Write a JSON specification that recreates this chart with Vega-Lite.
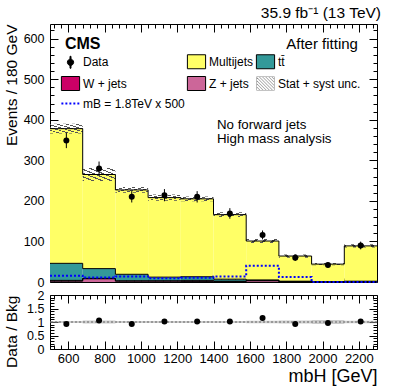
{
  "$schema": "https://vega.github.io/schema/vega-lite/v6.json",
  "padding": {"left": 3, "top": 5, "right": 5, "bottom": 2},
  "config": {
    "font": "Liberation Sans",
    "view": {"stroke": "black", "strokeWidth": 1},
    "axis": {"domain": false, "grid": false, "tickColor": "black", "labelColor": "black", "titleColor": "black", "labelFontSize": 13, "titleFontWeight": "normal", "tickWidth": 1},
    "axisX": {"titleFontSize": 18},
    "axisY": {"labelFontSize": 12.5}
  },
  "datasets": {
    "bins": [
      {"lo": 500, "hi": 680, "center": 590, "wjets": 2, "zjets": 2, "ttbar": 42, "multijets": 332, "signal": 15.5, "data": 349, "data_lo": 330, "data_hi": 368, "unc_lo": 366, "unc_hi": 390, "ratio": 0.93, "ratio_lo": 0.96, "ratio_hi": 1.04},
      {"lo": 680, "hi": 860, "center": 770, "wjets": 1, "zjets": 8, "ttbar": 24, "multijets": 232, "signal": 11, "data": 280, "data_lo": 263, "data_hi": 297, "unc_lo": 249, "unc_hi": 281, "ratio": 1.06, "ratio_lo": 0.94, "ratio_hi": 1.06},
      {"lo": 860, "hi": 1040, "center": 950, "wjets": 1, "zjets": 2, "ttbar": 16, "multijets": 208, "signal": 13.5, "data": 210, "data_lo": 196, "data_hi": 224, "unc_lo": 220, "unc_hi": 234, "ratio": 0.93, "ratio_lo": 0.96, "ratio_hi": 1.04},
      {"lo": 1040, "hi": 1220, "center": 1130, "wjets": 1, "zjets": 2, "ttbar": 9, "multijets": 196, "signal": 9, "data": 214, "data_lo": 199, "data_hi": 229, "unc_lo": 200, "unc_hi": 216, "ratio": 1.02, "ratio_lo": 0.96, "ratio_hi": 1.04},
      {"lo": 1220, "hi": 1400, "center": 1310, "wjets": 3, "zjets": 1, "ttbar": 9, "multijets": 192, "signal": 10.5, "data": 210, "data_lo": 196, "data_hi": 224, "unc_lo": 199, "unc_hi": 211, "ratio": 1.02, "ratio_lo": 0.96, "ratio_hi": 1.04},
      {"lo": 1400, "hi": 1580, "center": 1490, "wjets": 1, "zjets": 1, "ttbar": 5, "multijets": 159, "signal": 13.5, "data": 169, "data_lo": 156, "data_hi": 182, "unc_lo": 160, "unc_hi": 172, "ratio": 1.02, "ratio_lo": 0.96, "ratio_hi": 1.04},
      {"lo": 1580, "hi": 1760, "center": 1670, "wjets": 1, "zjets": 3, "ttbar": 1, "multijets": 96, "signal": 40, "data": 116, "data_lo": 105, "data_hi": 127, "unc_lo": 96, "unc_hi": 106, "ratio": 1.15, "ratio_lo": 0.95, "ratio_hi": 1.05},
      {"lo": 1760, "hi": 1940, "center": 1850, "wjets": 0.5, "zjets": 0.5, "ttbar": 1, "multijets": 62, "signal": 12.5, "data": 60, "data_lo": 52, "data_hi": 68, "unc_lo": 60, "unc_hi": 68, "ratio": 0.93, "ratio_lo": 0.94, "ratio_hi": 1.06},
      {"lo": 1940, "hi": 2120, "center": 2030, "wjets": 0.3, "zjets": 0.3, "ttbar": 0.5, "multijets": 43, "signal": 0, "data": 42, "data_lo": 35.5, "data_hi": 48.5, "unc_lo": 41, "unc_hi": 47, "ratio": 0.96, "ratio_lo": 0.93, "ratio_hi": 1.07},
      {"lo": 2120, "hi": 2300, "center": 2210, "wjets": 0.5, "zjets": 0.5, "ttbar": 1, "multijets": 87, "signal": 0, "data": 90, "data_lo": 80.5, "data_hi": 99.5, "unc_lo": 85, "unc_hi": 93, "ratio": 1.02, "ratio_lo": 0.95, "ratio_hi": 1.05}
    ]
  },
  "spacing": -1,
  "vconcat": [
    {
      "width": 327,
      "height": 258,
      "title": {"text": "35.9 fb⁻¹  (13 TeV)", "anchor": "end", "fontSize": 15.5, "fontWeight": "normal", "offset": 2, "color": "black"},
      "resolve": {"axis": {"x": "independent", "y": "independent"}},
      "layer": [
        {
          "data": {"name": "bins"},
          "transform": [
            {"fold": ["zjets", "wjets", "ttbar", "multijets"], "as": ["process", "events"]},
            {"stack": "events", "groupby": ["lo"], "sort": [{"field": "process", "order": "descending"}], "as": ["y0", "y1"]}
          ],
          "mark": {"type": "rect"},
          "encoding": {
            "x": {"field": "lo", "type": "quantitative", "scale": {"domain": [500, 2300], "nice": false, "zero": false},
              "axis": {"orient": "bottom", "values": [520,560,600,640,680,720,760,800,840,880,920,960,1000,1040,1080,1120,1160,1200,1240,1280,1320,1360,1400,1440,1480,1520,1560,1600,1640,1680,1720,1760,1800,1840,1880,1920,1960,2000,2040,2080,2120,2160,2200,2240,2280], "labels": false, "title": null,
                "tickSize": {"condition": {"test": "datum.value % 200 === 0", "value": -8}, "value": -4}}},
            "x2": {"field": "hi"},
            "y": {"field": "y0", "type": "quantitative", "scale": {"domain": [0, 636], "nice": false},
              "axis": {"orient": "left", "values": [0,20,40,60,80,100,120,140,160,180,200,220,240,260,280,300,320,340,360,380,400,420,440,460,480,500,520,540,560,580,600,620],
                "labelExpr": "datum.value % 100 === 0 ? datum.label : ''", "labelPadding": 14,
                "tickSize": {"condition": {"test": "datum.value % 100 === 0", "value": -8}, "value": -4},
                "title": "Events / 180 GeV", "titleAnchor": "end", "titleAlign": "right", "titleAngle": 270, "titleY": 0, "titleFontSize": 15.5, "titlePadding": 4}},
            "y2": {"field": "y1"},
            "color": {"field": "process", "type": "nominal",
              "scale": {"domain": ["data", "multijets", "ttbar", "wjets", "zjets", "unc", "signal"], "range": ["#000000", "#ffff66", "#339999", "#cc0066", "#cc6699", "#888888", "#0000ff"]},
              "legend": {"orient": "none", "legendX": 13, "legendY": 30, "columns": 3, "direction": "horizontal", "title": null,
                "columnPadding": 0, "rowPadding": 3, "symbolSize": 196, "symbolOpacity": 1, "symbolStrokeWidth": 1, "labelFontSize": 12, "labelOffset": 5, "labelLimit": 200, "labelColor": "black",
                "labelExpr": "datum.value === 'data' ? 'Data' : datum.value === 'multijets' ? 'Multijets' : datum.value === 'ttbar' ? 'tt̄' : datum.value === 'wjets' ? 'W + jets' : datum.value === 'zjets' ? 'Z + jets' : datum.value === 'unc' ? 'Stat + syst unc.' : 'mB = 1.8TeV x 500'"}}
          }
        },
        {
          "data": {"name": "bins"},
          "mark": {"type": "rect", "fill": {"gradient": "linear", "x1": 0, "y1": 1, "x2": 1, "y2": 0, "stops": [
            {"offset": 0, "color": "#555555"}, {"offset": 0.045, "color": "#555555"}, {"offset": 0.045, "color": "rgba(255,255,255,0)"}, {"offset": 0.1429, "color": "rgba(255,255,255,0)"},
            {"offset": 0.1429, "color": "#555555"}, {"offset": 0.1879, "color": "#555555"}, {"offset": 0.1879, "color": "rgba(255,255,255,0)"}, {"offset": 0.2857, "color": "rgba(255,255,255,0)"},
            {"offset": 0.2857, "color": "#555555"}, {"offset": 0.3307, "color": "#555555"}, {"offset": 0.3307, "color": "rgba(255,255,255,0)"}, {"offset": 0.4286, "color": "rgba(255,255,255,0)"},
            {"offset": 0.4286, "color": "#555555"}, {"offset": 0.4736, "color": "#555555"}, {"offset": 0.4736, "color": "rgba(255,255,255,0)"}, {"offset": 0.5714, "color": "rgba(255,255,255,0)"},
            {"offset": 0.5714, "color": "#555555"}, {"offset": 0.6164, "color": "#555555"}, {"offset": 0.6164, "color": "rgba(255,255,255,0)"}, {"offset": 0.7143, "color": "rgba(255,255,255,0)"},
            {"offset": 0.7143, "color": "#555555"}, {"offset": 0.7593, "color": "#555555"}, {"offset": 0.7593, "color": "rgba(255,255,255,0)"}, {"offset": 0.8571, "color": "rgba(255,255,255,0)"},
            {"offset": 0.8571, "color": "#555555"}, {"offset": 0.9021, "color": "#555555"}, {"offset": 0.9021, "color": "rgba(255,255,255,0)"}, {"offset": 1, "color": "rgba(255,255,255,0)"}
          ]}},
          "encoding": {
            "x": {"field": "lo", "type": "quantitative", "axis": null},
            "x2": {"field": "hi"},
            "y": {"field": "unc_lo", "type": "quantitative", "axis": null},
            "y2": {"field": "unc_hi"}
          }
        },
        {
          "data": {"name": "bins"},
          "transform": [
            {"fold": ["zjets", "wjets", "ttbar", "multijets"], "as": ["process", "events"]},
            {"stack": "events", "groupby": ["lo"], "sort": [{"field": "process", "order": "descending"}], "as": ["y0", "y1"]},
            {"fold": ["lo", "hi"], "as": ["edge", "xpos"]}
          ],
          "mark": {"type": "line", "color": "black", "strokeWidth": 1},
          "encoding": {
            "x": {"field": "xpos", "type": "quantitative", "axis": null},
            "y": {"field": "y1", "type": "quantitative", "axis": null},
            "detail": {"field": "process", "type": "nominal"},
            "order": [{"field": "xpos", "type": "quantitative"}, {"field": "edge", "type": "nominal"}]
          }
        },
        {
          "data": {"name": "bins"},
          "transform": [{"fold": ["lo", "hi"], "as": ["edge", "xpos"]}],
          "mark": {"type": "line", "color": "#0000ff", "strokeWidth": 2, "strokeDash": [2, 2]},
          "encoding": {
            "x": {"field": "xpos", "type": "quantitative", "axis": null},
            "y": {"field": "signal", "type": "quantitative", "axis": null},
            "order": [{"field": "xpos", "type": "quantitative"}, {"field": "edge", "type": "nominal"}]
          }
        },
        {
          "data": {"name": "bins"},
          "mark": {"type": "rule", "color": "black", "strokeWidth": 1},
          "encoding": {
            "x": {"field": "center", "type": "quantitative", "axis": null},
            "y": {"field": "data_lo", "type": "quantitative", "axis": null},
            "y2": {"field": "data_hi"}
          }
        },
        {
          "data": {"name": "bins"},
          "mark": {"type": "point", "filled": true, "color": "black", "size": 36, "opacity": 1},
          "encoding": {
            "x": {"field": "center", "type": "quantitative",
              "axis": {"orient": "top", "values": [520,560,600,640,680,720,760,800,840,880,920,960,1000,1040,1080,1120,1160,1200,1240,1280,1320,1360,1400,1440,1480,1520,1560,1600,1640,1680,1720,1760,1800,1840,1880,1920,1960,2000,2040,2080,2120,2160,2200,2240,2280], "labels": false, "title": null,
                "tickSize": {"condition": {"test": "datum.value % 200 === 0", "value": -8}, "value": -4}}},
            "y": {"field": "data", "type": "quantitative",
              "axis": {"orient": "right", "values": [0,20,40,60,80,100,120,140,160,180,200,220,240,260,280,300,320,340,360,380,400,420,440,460,480,500,520,540,560,580,600,620], "labels": false, "title": null,
                "tickSize": {"condition": {"test": "datum.value % 100 === 0", "value": -8}, "value": -4}}}
          }
        },
        {
          "data": {"name": "bins"},
          "transform": [{"fold": ["zjets", "wjets", "ttbar", "multijets"], "as": ["process", "events"]}],
          "mark": {"type": "point", "filled": true, "opacity": 0},
          "encoding": {
            "x": {"field": "lo", "type": "quantitative", "axis": null},
            "y": {"field": "events", "type": "quantitative", "axis": null},
            "color": {"field": "process", "type": "nominal",
              "legend": {"orient": "none", "legendX": 13, "legendY": 30, "columns": 3, "direction": "horizontal", "title": null,
                "columnPadding": 0, "rowPadding": 3, "symbolSize": 196, "symbolOpacity": 1, "symbolStrokeWidth": 1, "labelFontSize": 12, "labelOffset": 5, "labelLimit": 200, "labelColor": "black",
                "labelExpr": "datum.value === 'data' ? 'Data' : datum.value === 'multijets' ? 'Multijets' : datum.value === 'ttbar' ? 'tt̄' : datum.value === 'wjets' ? 'W + jets' : datum.value === 'zjets' ? 'Z + jets' : datum.value === 'unc' ? 'Stat + syst unc.' : 'mB = 1.8TeV x 500'"}},
            "shape": {"field": "process", "type": "nominal",
              "scale": {"domain": ["data", "multijets", "ttbar", "wjets", "zjets", "unc", "signal"],
                "range": [
                  "M-0.07,-0.85H0.07V0.85H-0.07Z M0.45,0A0.45,0.45,0,1,1,-0.45,0A0.45,0.45,0,1,1,0.45,0Z",
                  "M-1.3,-1H1.3V1H-1.3Z",
                  "M-1.3,-1H1.3V1H-1.3Z",
                  "M-1.3,-1H1.3V1H-1.3Z",
                  "M-1.3,-1H1.3V1H-1.3Z",
                  "M-1.3,-1H1.3V1H-1.3Z M-1.22,-0.92V0.92H1.22V-0.92Z M-1.3,0.5L-1.18,0.5L-0.68,1L-0.8,1Z M-1.3,0.05L-1.18,0.05L-0.23,1L-0.35,1Z M-1.3,-0.4L-1.18,-0.4L0.22,1L0.1,1Z M-1.3,-0.85L-1.18,-0.85L0.67,1L0.55,1Z M-1,-1L-0.88,-1L1.12,1L1,1Z M-0.55,-1L-0.43,-1L1.3,0.73L1.18,0.73Z M-0.1,-1L0.02,-1L1.3,0.28L1.18,0.28Z M0.35,-1L0.47,-1L1.3,-0.17L1.18,-0.17Z M0.8,-1L0.92,-1L1.3,-0.62L1.18,-0.62Z",
                  "M-1.3,-0.14h0.28v0.28h-0.28Z M-0.73,-0.14h0.28v0.28h-0.28Z M-0.16,-0.14h0.28v0.28h-0.28Z M0.41,-0.14h0.28v0.28h-0.28Z M0.98,-0.14h0.28v0.28h-0.28Z"
                ]},
              "legend": {"orient": "none", "legendX": 13, "legendY": 30, "columns": 3, "direction": "horizontal", "title": null,
                "columnPadding": 0, "rowPadding": 3, "symbolSize": 196, "symbolOpacity": 1, "symbolStrokeWidth": 1, "labelFontSize": 12, "labelOffset": 5, "labelLimit": 200, "labelColor": "black",
                "labelExpr": "datum.value === 'data' ? 'Data' : datum.value === 'multijets' ? 'Multijets' : datum.value === 'ttbar' ? 'tt̄' : datum.value === 'wjets' ? 'W + jets' : datum.value === 'zjets' ? 'Z + jets' : datum.value === 'unc' ? 'Stat + syst unc.' : 'mB = 1.8TeV x 500'"}},
            "stroke": {"field": "process", "type": "nominal",
              "scale": {"domain": ["data", "multijets", "ttbar", "wjets", "zjets", "unc", "signal"],
                "range": ["#000000", "#000000", "#000000", "#000000", "#000000", "transparent", "transparent"]},
              "legend": {"orient": "none", "legendX": 13, "legendY": 30, "columns": 3, "direction": "horizontal", "title": null,
                "columnPadding": 0, "rowPadding": 3, "symbolSize": 196, "symbolOpacity": 1, "symbolStrokeWidth": 1, "labelFontSize": 12, "labelOffset": 5, "labelLimit": 200, "labelColor": "black",
                "labelExpr": "datum.value === 'data' ? 'Data' : datum.value === 'multijets' ? 'Multijets' : datum.value === 'ttbar' ? 'tt̄' : datum.value === 'wjets' ? 'W + jets' : datum.value === 'zjets' ? 'Z + jets' : datum.value === 'unc' ? 'Stat + syst unc.' : 'mB = 1.8TeV x 500'"}}
          }
        },
        {
          "data": {"values": [{}]},
          "mark": {"type": "text", "text": "CMS", "align": "left", "baseline": "alphabetic", "fontSize": 16, "fontWeight": "bold", "color": "black"},
          "encoding": {
            "x": {"datum": 582, "type": "quantitative", "axis": null},
            "y": {"datum": 574, "type": "quantitative", "axis": null}
          }
        },
        {
          "data": {"values": [{}]},
          "mark": {"type": "text", "text": "After fitting", "align": "right", "baseline": "alphabetic", "fontSize": 15, "color": "black"},
          "encoding": {
            "x": {"datum": 2195, "type": "quantitative", "axis": null},
            "y": {"datum": 574, "type": "quantitative", "axis": null}
          }
        },
        {
          "data": {"values": [{}]},
          "mark": {"type": "text", "text": ["No forward jets", "High mass analysis"], "align": "left", "baseline": "alphabetic", "fontSize": 13.3, "lineHeight": 14, "color": "black"},
          "encoding": {
            "x": {"datum": 1419, "type": "quantitative", "axis": null},
            "y": {"datum": 377, "type": "quantitative", "axis": null}
          }
        }
      ]
    },
    {
      "width": 327,
      "height": 54,
      "resolve": {"axis": {"x": "independent", "y": "independent"}},
      "layer": [
        {
          "data": {"name": "bins"},
          "mark": {"type": "rect", "fill": "#999999", "opacity": 0.5},
          "encoding": {
            "x": {"field": "lo", "type": "quantitative", "scale": {"domain": [500, 2300], "nice": false, "zero": false},
              "axis": {"orient": "bottom", "values": [520,560,600,640,680,720,760,800,840,880,920,960,1000,1040,1080,1120,1160,1200,1240,1280,1320,1360,1400,1440,1480,1520,1560,1600,1640,1680,1720,1760,1800,1840,1880,1920,1960,2000,2040,2080,2120,2160,2200,2240,2280],
                "labelExpr": "datum.value % 200 === 0 ? '' + datum.value : ''", "labelPadding": 11.5,
                "tickSize": {"condition": {"test": "datum.value % 200 === 0", "value": -8}, "value": -4},
                "title": "mbH [GeV]", "titleAnchor": "end", "titleFontSize": 18, "titlePadding": 2}},
            "x2": {"field": "hi"},
            "y": {"field": "ratio_lo", "type": "quantitative", "scale": {"domain": [0, 2], "nice": false},
              "axis": {"orient": "left", "values": [0,0.1,0.2,0.3,0.4,0.5,0.6,0.7,0.8,0.9,1,1.1,1.2,1.3,1.4,1.5,1.6,1.7,1.8,1.9,2],
                "labelExpr": "abs(datum.value*2 - round(datum.value*2)) < 0.001 ? '' + datum.value : ''", "labelPadding": 14,
                "tickSize": {"condition": {"test": "abs(datum.value*2 - round(datum.value*2)) < 0.001", "value": -8}, "value": -4},
                "title": "Data / Bkg", "titleAnchor": "end", "titleAlign": "right", "titleAngle": 270, "titleY": 0, "titleFontSize": 15.5, "titlePadding": 7}},
            "y2": {"field": "ratio_hi"}
          }
        },
        {
          "data": {"values": [{}]},
          "mark": {"type": "rule", "color": "#666666", "strokeDash": [2, 2], "strokeWidth": 1},
          "encoding": {
            "y": {"datum": 1, "type": "quantitative", "axis": null}
          }
        },
        {
          "data": {"name": "bins"},
          "mark": {"type": "point", "filled": true, "color": "black", "size": 36, "opacity": 1},
          "encoding": {
            "x": {"field": "center", "type": "quantitative",
              "axis": {"orient": "top", "values": [520,560,600,640,680,720,760,800,840,880,920,960,1000,1040,1080,1120,1160,1200,1240,1280,1320,1360,1400,1440,1480,1520,1560,1600,1640,1680,1720,1760,1800,1840,1880,1920,1960,2000,2040,2080,2120,2160,2200,2240,2280], "labels": false, "title": null,
                "tickSize": {"condition": {"test": "datum.value % 200 === 0", "value": -8}, "value": -4}}},
            "y": {"field": "ratio", "type": "quantitative",
              "axis": {"orient": "right", "values": [0,0.1,0.2,0.3,0.4,0.5,0.6,0.7,0.8,0.9,1,1.1,1.2,1.3,1.4,1.5,1.6,1.7,1.8,1.9,2], "labels": false, "title": null,
                "tickSize": {"condition": {"test": "abs(datum.value*2 - round(datum.value*2)) < 0.001", "value": -8}, "value": -4}}}
          }
        }
      ]
    }
  ]
}
